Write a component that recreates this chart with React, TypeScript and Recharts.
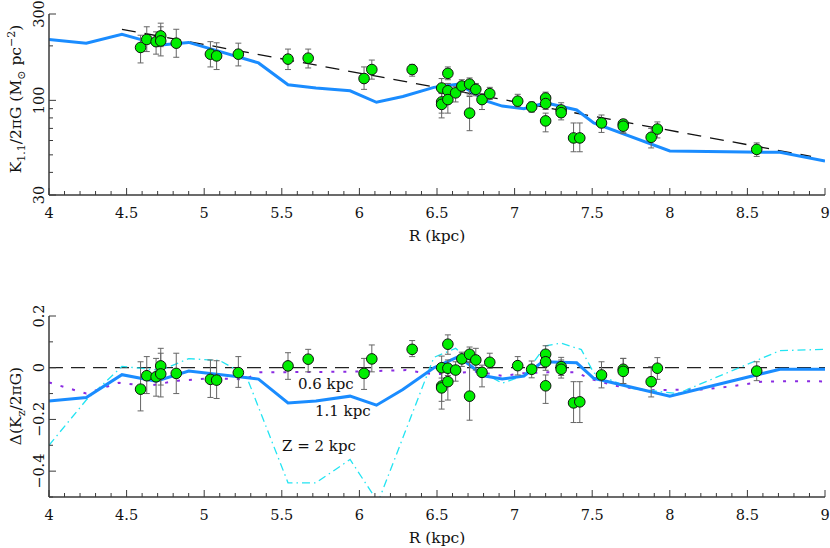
import { ComposedChart, Line, Scatter, ErrorBar, XAxis, YAxis, ReferenceLine } from "recharts";

const FONT = "'DejaVu Serif', serif";
const AXIS = "#3a3a3a";
const BLUE = "#1a8cff";
const CYAN = "#22e4f2";
const PURPLE = "#8a2be2";
const GREEN = "#00ee00";

// x axis
const xMajor = [4, 4.5, 5, 5.5, 6, 6.5, 7, 7.5, 8, 8.5, 9];
const xTicks = xMajor.flatMap((m, i) =>
  i === xMajor.length - 1 ? [m] : [m, m + 0.1, m + 0.2, m + 0.3, m + 0.4]
);

// y axes
const topYTicks = [30, 40, 50, 60, 70, 80, 90, 100, 200, 300];
const topYLabels = [30, 100, 300];
const botYTicks = [-0.5, -0.4, -0.3, -0.2, -0.1, 0, 0.1, 0.2];
const botYLabels = [-0.4, -0.2, 0, 0.2];

// measured points (R in kpc)
const starR = [4.59, 4.63, 4.69, 4.72, 4.72, 4.82, 5.04, 5.08, 5.22, 5.54, 5.67, 6.03, 6.08, 6.34, 6.53, 6.53, 6.53, 6.57, 6.57, 6.57, 6.62, 6.66, 6.71, 6.71, 6.75, 6.79, 6.84, 7.02, 7.11, 7.2, 7.2, 7.2, 7.3, 7.3, 7.38, 7.42, 7.56, 7.7, 7.7, 7.88, 7.92, 8.56];
const starK = [196, 217, 211, 227, 213, 207, 180, 176, 180, 169, 171, 132, 148, 148, 117, 98, 95, 141, 113, 101, 110, 120, 123, 85, 115, 101, 109, 99, 92, 103, 96, 77, 88.5, 85.5, 62, 62, 75, 74, 72, 62.5, 69.4, 53.6];
const starKLo = [161, 186, 180, 198, 176, 173, 153, 148, 155, 148, 151, 115, 131, 136, 100, 85, 80, 130, 104, 85, 98, 111, 107, 68, 106, 89, 101, 92, 86, 94, 89, 67, 81, 78, 52, 52, 66.5, 66, 66, 54.6, 62, 49];
const starKHi = [229, 255, 239, 267, 255, 247, 211, 208, 207, 192, 192, 153, 167, 158, 132, 109, 110, 153, 124, 111, 119, 130, 133, 105, 124, 109, 118, 108, 98, 111, 107, 85, 97, 92, 75, 75, 83, 78, 78, 70, 76, 58.2];
const starD = [-0.083, -0.031, -0.035, 0.007, -0.024, -0.022, -0.045, -0.048, -0.019, 0.007, 0.033, -0.022, 0.034, 0.071, 0.0, -0.071, -0.078, 0.091, -0.002, -0.054, -0.009, 0.034, 0.052, -0.11, 0.03, -0.018, 0.021, 0.008, -0.006, 0.052, 0.023, -0.07, 0.004, -0.006, -0.136, -0.132, -0.028, -0.006, -0.014, -0.054, -0.002, -0.013];
const starDLo = [-0.167, -0.1, -0.11, -0.067, -0.113, -0.1, -0.115, -0.119, -0.076, -0.045, -0.016, -0.084, -0.016, 0.043, -0.04, -0.13, -0.16, 0.052, -0.03, -0.125, -0.052, 0.005, 0.02, -0.203, -0.009, -0.074, -0.002, -0.028, -0.039, 0.02, -0.01, -0.138, -0.03, -0.04, -0.212, -0.212, -0.078, -0.061, -0.061, -0.113, -0.045, -0.05];
const starDHi = [0.023, 0.043, 0.036, 0.075, 0.056, 0.056, 0.03, 0.027, 0.043, 0.058, 0.071, 0.036, 0.088, 0.105, 0.045, -0.01, 0.0, 0.127, 0.03, -0.016, 0.023, 0.06, 0.08, 0.023, 0.075, 0.01, 0.056, 0.043, 0.026, 0.085, 0.06, -0.028, 0.04, 0.03, -0.054, -0.054, 0.023, 0.036, 0.036, 0.004, 0.039, 0.023];

// model K at 1.1 kpc
const modelTopR = [4.0, 4.24, 4.47, 4.72, 4.9, 5.35, 5.54, 5.72, 5.94, 6.11, 6.28, 6.48, 6.64, 6.82, 6.92, 7.06, 7.2, 7.4, 7.51, 8.0, 8.71, 9.0];
const modelTopK = [217, 207, 232, 202, 209, 161, 122, 117, 113, 97.6, 105, 118, 123, 99, 93, 90, 97, 88.5, 75, 52.5, 51.6, 46.2];

// dashed trend
const trendR = [4.47, 8.91];
const trendK = [247, 49];

// residual models
const res11R = [4.0, 4.24, 4.47, 4.69, 4.9, 5.35, 5.54, 5.72, 5.94, 6.11, 6.28, 6.48, 6.64, 6.8, 6.92, 7.06, 7.18, 7.4, 7.51, 8.0, 8.71, 9.0];
const res11D = [-0.129, -0.115, -0.027, -0.052, -0.013, -0.044, -0.136, -0.129, -0.11, -0.145, -0.084, 0.0, 0.043, -0.031, -0.044, -0.032, 0.023, 0.019, -0.041, -0.11, -0.006, -0.006];
const res06R = [4.0, 4.24, 4.45, 4.63, 4.83, 5.05, 5.26, 5.36, 6.0, 6.3, 6.48, 6.75, 6.93, 7.04, 7.21, 7.4, 7.49, 7.66, 7.85, 8.22, 8.41, 8.59, 8.78, 9.0];
const res06D = [-0.057, -0.1, -0.058, -0.071, -0.05, -0.041, -0.045, -0.018, -0.015, -0.009, -0.026, -0.015, -0.032, -0.022, -0.018, -0.018, -0.044, -0.071, -0.087, -0.084, -0.071, -0.054, -0.052, -0.053];
const res2R = [4.0, 4.24, 4.47, 4.72, 4.9, 5.1, 5.27, 5.54, 5.72, 5.94, 6.12, 6.48, 6.62, 6.8, 6.92, 7.06, 7.2, 7.3, 7.43, 7.51, 7.75, 8.05, 8.71, 9.0];
const res2D = [-0.3, -0.125, 0.005, -0.01, 0.035, 0.028, -0.03, -0.445, -0.445, -0.355, -0.52, 0.04, 0.075, -0.02, -0.06, -0.03, 0.085, 0.095, 0.07, -0.02, -0.08, -0.1, 0.066, 0.071];

const starsTop = starR.map((r, i) => ({ r, k: starK[i], err: [starK[i] - starKLo[i], starKHi[i] - starK[i]] }));
const starsBot = starR.map((r, i) => ({ r, d: starD[i], err: [starD[i] - starDLo[i], starDHi[i] - starD[i]] }));
const modelTop = modelTopR.map((r, i) => ({ r, k: modelTopK[i] }));
const trendTop = trendR.map((r, i) => ({ r, k: trendK[i] }));
const res11 = res11R.map((r, i) => ({ r, d: res11D[i] }));
const res06 = res06R.map((r, i) => ({ r, d: res06D[i] }));
const res2 = res2R.map((r, i) => ({ r, d: res2D[i] }));

const near = (list: number[], v: number) => list.some((m) => Math.abs(m - v) < 1e-6);
const fmt = (v: number) => String(Math.round(v * 10) / 10).replace("-", "\u2212");

const tickText = { fontSize: 14.5, fontFamily: FONT, fill: "#111" };

function xTick(side: "bottom" | "top") {
  return (p: any) => {
    const v = p.payload.value;
    const major = near(xMajor, v);
    const len = major ? 7 : 4;
    const dir = side === "bottom" ? -1 : 1;
    return (
      <g>
        <line x1={p.x} x2={p.x} y1={p.y} y2={p.y + dir * len} stroke={AXIS} strokeWidth={1} />
        {side === "bottom" && major && (
          <text x={p.x} y={p.y + 23} textAnchor="middle" {...tickText}>{fmt(v)}</text>
        )}
      </g>
    );
  };
}

function yTick(side: "left" | "right", labels: number[]) {
  return (p: any) => {
    const v = p.payload.value;
    const major = near(labels, v);
    const len = major ? 7 : 4;
    const dir = side === "left" ? 1 : -1;
    const lx = p.x - 5;
    return (
      <g>
        <line x1={p.x} x2={p.x + dir * len} y1={p.y} y2={p.y} stroke={AXIS} strokeWidth={1} />
        {side === "left" && major && (
          <text x={lx} y={p.y} transform={`rotate(-90 ${lx} ${p.y})`} textAnchor="middle" {...tickText}>{fmt(v)}</text>
        )}
      </g>
    );
  };
}

const axisLine = { stroke: AXIS, strokeWidth: 1.5 };

function Dot(p: any) {
  return <circle cx={p.cx} cy={p.cy} r={5.3} fill={GREEN} stroke="#111" strokeWidth={1} />;
}

function Frame({ yScale, yDomain, yTicks, yLabels, height, top, xHeight, children }: any) {
  return (
    <ComposedChart width={830} height={height} margin={{ top, right: 5, bottom: 0, left: 0 }}>
      <XAxis xAxisId={0} type="number" dataKey="r" domain={[4, 9]} allowDataOverflow ticks={xTicks} interval={0}
        tick={xTick("bottom")} tickLine={false} tickSize={0} tickMargin={0} axisLine={axisLine} height={xHeight} />
      <XAxis xAxisId="top" orientation="top" type="number" dataKey="r" domain={[4, 9]} allowDataOverflow ticks={xTicks} interval={0}
        tick={xTick("top")} tickLine={false} tickSize={0} tickMargin={0} axisLine={axisLine} height={0} />
      <YAxis yAxisId={0} type="number" scale={yScale} domain={yDomain} allowDataOverflow ticks={yTicks} interval={0}
        tick={yTick("left", yLabels)} tickLine={false} tickSize={0} tickMargin={0} axisLine={axisLine} width={49} />
      <YAxis yAxisId="right" orientation="right" type="number" scale={yScale} domain={yDomain} allowDataOverflow ticks={yTicks} interval={0}
        tick={yTick("right", yLabels)} tickLine={false} tickSize={0} tickMargin={0} axisLine={axisLine} width={0} />
      {children}
    </ComposedChart>
  );
}

export default function App() {
  return (
    <div style={{ position: "absolute", left: 0, top: 0, width: 830, height: 548, background: "#fff" }}>
      <div style={{ position: "absolute", left: 0, top: 0 }}>
        <Frame yScale="log" yDomain={[30, 300]} yTicks={topYTicks} yLabels={topYLabels} height={250} top={14} xHeight={55}>
          <Line data={trendTop} dataKey="k" type="linear" stroke="#111" strokeWidth={1.3} strokeDasharray="14 9" dot={false} isAnimationActive={false} />
          <Line data={modelTop} dataKey="k" type="linear" stroke={BLUE} strokeWidth={3} dot={false} isAnimationActive={false} />
          <Scatter data={starsTop} dataKey="k" shape={Dot} isAnimationActive={false}>
            <ErrorBar dataKey="err" direction="y" width={3} stroke="#666" strokeWidth={1} />
          </Scatter>
        </Frame>
      </div>
      <div style={{ position: "absolute", left: 0, top: 300 }}>
        <Frame yScale="linear" yDomain={[-0.5, 0.2]} yTicks={botYTicks} yLabels={botYLabels} height={248} top={16} xHeight={51}>
          <ReferenceLine y={0} stroke="#222" strokeWidth={1.3} strokeDasharray="14 8" />
          <Line data={res06} dataKey="d" type="linear" stroke={PURPLE} strokeWidth={2} strokeDasharray="3 9" dot={false} isAnimationActive={false} />
          <Line data={res2} dataKey="d" type="linear" stroke={CYAN} strokeWidth={1.3} strokeDasharray="8 4 1.5 4" dot={false} isAnimationActive={false} />
          <Line data={res11} dataKey="d" type="linear" stroke={BLUE} strokeWidth={3} dot={false} isAnimationActive={false} />
          <Scatter data={starsBot} dataKey="d" shape={Dot} isAnimationActive={false}>
            <ErrorBar dataKey="err" direction="y" width={3} stroke="#666" strokeWidth={1} />
          </Scatter>
        </Frame>
      </div>
      <svg width={830} height={548} style={{ position: "absolute", left: 0, top: 0, pointerEvents: "none" }} fontFamily={FONT} fill="#111">
        <text x={437} y={241} textAnchor="middle" fontSize={15.5}>R (kpc)</text>
        <text x={437} y={543} textAnchor="middle" fontSize={15.5}>R (kpc)</text>
        <text x={21} y={99} transform="rotate(-90 21 99)" textAnchor="middle" fontSize={15.5}>
          K<tspan dy={4} fontSize={11}>1.1</tspan>
          <tspan dy={-4}>/2πG (M</tspan>
          <tspan dy={4} fontSize={11}>⊙</tspan>
          <tspan dy={-4}> pc</tspan>
          <tspan dy={-6} fontSize={11}>−2</tspan>
          <tspan dy={6}>)</tspan>
        </text>
        <text x={21} y={406} transform="rotate(-90 21 406)" textAnchor="middle" fontSize={15.5}>
          Δ(K<tspan dy={4} fontSize={11}>z</tspan>
          <tspan dy={-4}>/2πG)</tspan>
        </text>
        <text x={298} y={389} fontSize={15}>0.6 kpc</text>
        <text x={315} y={416} fontSize={15}>1.1 kpc</text>
        <text x={282} y={451} fontSize={15} style={{ whiteSpace: "pre" }}>Z = 2 kpc</text>
      </svg>
    </div>
  );
}
